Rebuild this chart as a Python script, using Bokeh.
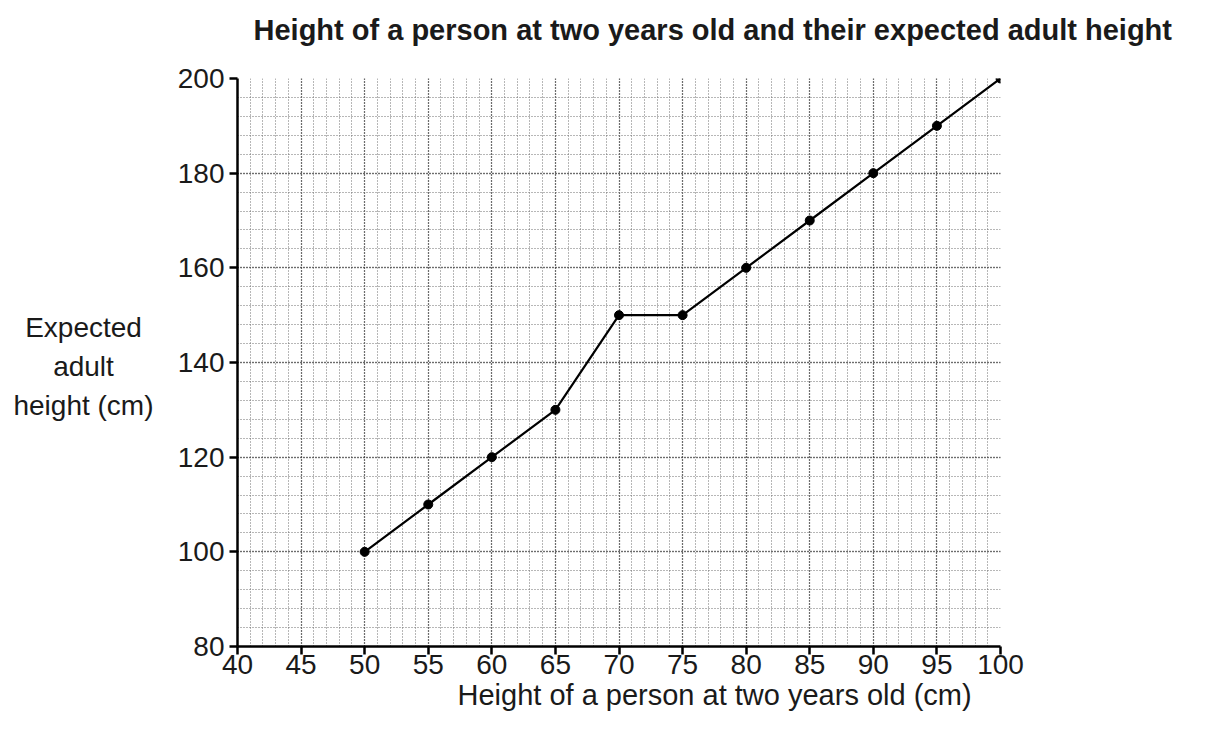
from bokeh.plotting import figure
from bokeh.models import SingleIntervalTicker, FixedTicker, Range1d, Title, LinearAxis
from bokeh.layouts import row
from bokeh.core.properties import value
from bokeh.embed import file_html
from bokeh.resources import INLINE

child_height = [50, 55, 60, 65, 70, 75, 80, 85, 90, 95, 100]
adult_height = [100, 110, 120, 130, 150, 150, 160, 170, 180, 190, 200]

title_text = "Height of a person at two years old and their expected adult height"
x_label = "Height of a person at two years old (cm)"
y_label_lines = ["Expected", "adult", "height (cm)"]
# where the y-label lines sit (left panel pixels across, main y-axis units up)
y_label_x = [83, 83, 83]
y_label_y = [147.4, 139.2, 130.9]

FONT = "Liberation Sans"
TXT = "#1a1a1a"
H = 726
LEFT_W = 160

p = figure(frame_width=763, frame_height=568, width=1212 - LEFT_W, height=H,
           x_range=Range1d(40, 100), y_range=Range1d(80, 200),
           output_backend="svg", toolbar_location=None,
           min_border_left=237 - LEFT_W, min_border_right=212,
           min_border_top=78, min_border_bottom=80)

xaxis = p.below[0]
yaxis = p.left[0]

# left panel holding the horizontal, centred y-axis label (shares the y scale)
pl = figure(width=LEFT_W, height=H, x_range=Range1d(0, LEFT_W), y_range=p.y_range,
            x_axis_type=None, y_axis_type=None, output_backend="svg",
            toolbar_location=None, min_border=0)
pl.outline_line_color = None
pl.grid.visible = False
pl.text(x=y_label_x, y=y_label_y, text=y_label_lines, text_align="center",
        text_baseline="middle", text_font=value(FONT), text_font_size="28px",
        text_color=TXT)

# invisible spacer axis above the frame so the title sits higher
spacer = LinearAxis(ticker=FixedTicker(ticks=[70], minor_ticks=[]), axis_line_color=None,
                    major_tick_line_color=None, minor_tick_line_color=None,
                    major_tick_out=21, major_tick_in=0, minor_tick_out=0,
                    major_label_standoff=0, major_label_text_font_size="1px",
                    major_label_text_color=None, major_label_text_alpha=0)
p.add_layout(spacer, "above")

p.title.text = title_text
p.title.text_font = FONT
p.title.text_font_size = "29px"
p.title.text_font_style = "bold"
p.title.text_color = TXT
p.title.align = "left"
p.title.offset = 16
p.title.standoff = 23

p.outline_line_color = None
p.background_fill_color = "white"
p.border_fill_color = "white"

xticker = SingleIntervalTicker(interval=5, num_minor_ticks=5)
yticker = SingleIntervalTicker(interval=20, num_minor_ticks=5)
xaxis.ticker = xticker
yaxis.ticker = yticker
p.xgrid.ticker = xticker
p.ygrid.ticker = yticker

for ax in (xaxis, yaxis):
    ax.axis_line_color = "black"
    ax.axis_line_width = 2.5
    ax.major_tick_line_color = "black"
    ax.major_tick_line_width = 2.5
    ax.major_tick_out = 8
    ax.major_tick_in = 0
    ax.minor_tick_line_color = None
    ax.major_label_text_font = FONT
    ax.major_label_text_font_size = "28px"
    ax.major_label_text_color = TXT

xaxis.major_label_standoff = 0
yaxis.major_label_standoff = 5

xt = Title(text=x_label, align="left", offset=220, standoff=1,
           text_font=FONT, text_font_size="29px", text_font_style="normal",
           text_color=TXT)
p.add_layout(xt, "below")

for g in (p.xgrid, p.ygrid):
    g.grid_line_color = "#222222"
    g.grid_line_width = 1.3
    g.grid_line_dash = "1 2"
    g.minor_grid_line_color = "#6f6f6f"
    g.minor_grid_line_width = 1
    g.minor_grid_line_dash = "1 2"

p.line(child_height, adult_height, line_color="black", line_width=2.2)
p.scatter(child_height, adult_height, size=9, fill_color="black", line_color="black")

layout = row(pl, p, spacing=0)
open("out.html", "w").write(file_html(layout, INLINE))
